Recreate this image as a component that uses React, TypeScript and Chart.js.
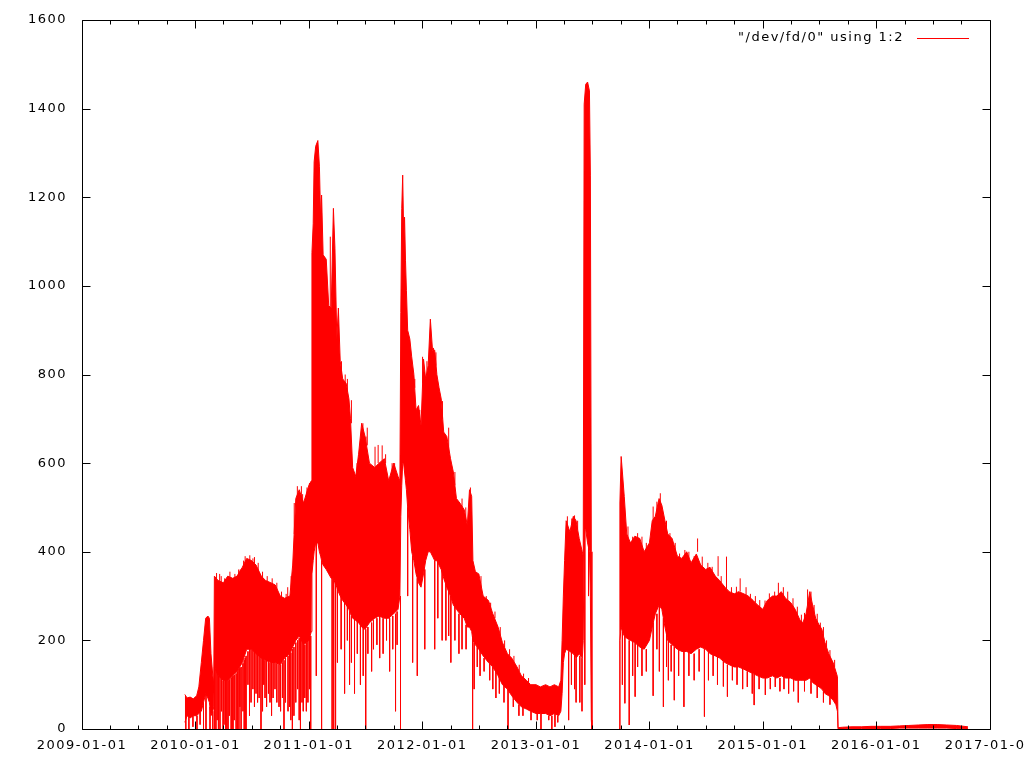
import React, { useEffect, useRef } from 'react';
import { Chart, registerables } from 'chart.js';

Chart.register(...registerables);

// ---- axis labels ----
const xTickLabels = [
  '2009-01-01', '2010-01-01', '2011-01-01', '2012-01-01', '2013-01-01',
  '2014-01-01', '2015-01-01', '2016-01-01', '2017-01-01',
];
const xMinorTickDates = [
  '2009-04-01', '2009-07-01', '2009-10-01', '2010-04-01', '2010-07-01', '2010-10-01',
  '2011-04-01', '2011-07-01', '2011-10-01', '2012-04-01', '2012-07-01', '2012-10-01',
  '2013-04-01', '2013-07-01', '2013-10-01', '2014-04-01', '2014-07-01', '2014-10-01',
  '2015-04-01', '2015-07-01', '2015-10-01', '2016-04-01', '2016-07-01', '2016-10-01',
];
const yTickValues = [0, 200, 400, 600, 800, 1000, 1200, 1400, 1600];
const legendLabel = '"/dev/fd/0" using 1:2';

// ---- series: envelope of the dense trace (sample dates, upper and lower values; null = no data) ----
const sampleDates = [
  '2009-11-28', '2009-12-05', '2009-12-15', '2009-12-25', '2010-01-05', '2010-01-12', '2010-01-20', '2010-01-27',
  '2010-02-03', '2010-02-10', '2010-02-15', '2010-02-20', '2010-02-26', '2010-03-01', '2010-03-03', '2010-03-15',
  '2010-04-01', '2010-04-15', '2010-05-01', '2010-05-15', '2010-06-01', '2010-06-15', '2010-07-01', '2010-07-15',
  '2010-08-01', '2010-08-15', '2010-09-01', '2010-09-15', '2010-10-01', '2010-10-15', '2010-11-01', '2010-11-10',
  '2010-11-20', '2010-12-01', '2010-12-15', '2011-01-01', '2011-01-09', '2011-01-11', '2011-01-15', '2011-01-18',
  '2011-01-23', '2011-01-30', '2011-02-04', '2011-02-08', '2011-02-11', '2011-02-16', '2011-02-26', '2011-03-06',
  '2011-03-14', '2011-03-21', '2011-03-26', '2011-04-01', '2011-04-06', '2011-04-12', '2011-04-20', '2011-05-01',
  '2011-05-10', '2011-05-15', '2011-05-22', '2011-06-01', '2011-06-10', '2011-06-20', '2011-07-01', '2011-07-15',
  '2011-08-01', '2011-08-15', '2011-09-01', '2011-09-15', '2011-10-01', '2011-10-15', '2011-10-21', '2011-10-24',
  '2011-10-27', '2011-10-30', '2011-11-02', '2011-11-05', '2011-11-08', '2011-11-11', '2011-11-15', '2011-11-22',
  '2011-11-28', '2011-12-05', '2011-12-12', '2011-12-20', '2011-12-28', '2012-01-05', '2012-01-12', '2012-01-20',
  '2012-01-27', '2012-02-03', '2012-02-10', '2012-02-17', '2012-02-24', '2012-03-02', '2012-03-10', '2012-03-20',
  '2012-04-01', '2012-04-10', '2012-04-20', '2012-05-01', '2012-05-15', '2012-05-25', '2012-06-01', '2012-06-08',
  '2012-06-12', '2012-06-20', '2012-07-01', '2012-07-15', '2012-08-01', '2012-08-15', '2012-09-01', '2012-09-15',
  '2012-10-01', '2012-10-15', '2012-11-01', '2012-11-15', '2012-12-01', '2012-12-15', '2013-01-01', '2013-01-15',
  '2013-02-01', '2013-02-15', '2013-03-01', '2013-03-15', '2013-03-22', '2013-03-26', '2013-03-30', '2013-04-03',
  '2013-04-08', '2013-04-20', '2013-05-01', '2013-05-10', '2013-05-20', '2013-05-30', '2013-06-02', '2013-06-05',
  '2013-06-10', '2013-06-16', '2013-06-22', '2013-06-25', '2013-06-28', '2013-06-30', '2013-08-10', '2013-09-26',
  '2013-09-28', '2013-10-02', '2013-10-06', '2013-10-12', '2013-10-20', '2013-11-01', '2013-11-15', '2013-12-01',
  '2013-12-15', '2014-01-01', '2014-01-10', '2014-01-20', '2014-02-01', '2014-02-10', '2014-02-20', '2014-03-01',
  '2014-03-15', '2014-04-01', '2014-04-15', '2014-05-01', '2014-05-15', '2014-06-01', '2014-06-15', '2014-07-01',
  '2014-07-15', '2014-08-01', '2014-08-15', '2014-09-01', '2014-09-15', '2014-10-01', '2014-10-15', '2014-11-01',
  '2014-11-15', '2014-12-01', '2014-12-15', '2015-01-01', '2015-01-15', '2015-02-01', '2015-02-15', '2015-03-01',
  '2015-03-15', '2015-04-01', '2015-04-15', '2015-05-01', '2015-05-10', '2015-05-20', '2015-06-01', '2015-06-10',
  '2015-06-20', '2015-07-01', '2015-07-10', '2015-07-20', '2015-08-01', '2015-08-15', '2015-08-24', '2015-08-29',
  '2015-08-31', '2015-09-15', '2015-10-15', '2015-11-15', '2015-12-15', '2016-01-15', '2016-02-15', '2016-03-15',
  '2016-04-15', '2016-05-15', '2016-06-15', '2016-07-15', '2016-08-15', '2016-09-15', '2016-10-22',
];
const upperValues = [
  78, 70, 72, 68, 75, 95, 150, 200,
  250, 255, 250, 170, 120, 100, 345, 335,
  330, 345, 340, 345, 365, 385, 380, 370,
  345, 335, 330, 325, 300, 295, 300, 370,
  520, 540, 510, 550, 560, 1075, 1140, 1280,
  1315, 1328, 1270, 1150, 1205, 1070, 1060, 955,
  950, 1175, 1085, 880, 950, 830, 790, 780,
  745, 700, 590, 570, 620, 690, 660, 600,
  590, 600, 610, 560, 600, 570, 560, 940,
  1175, 1250, 1125, 1155, 1058, 990, 900, 880,
  840, 800, 720, 730, 685, 835, 790, 820,
  925, 855, 855, 800, 770, 745, 670, 660,
  610, 580, 520, 510, 495, 460, 540, 525,
  380, 355, 350, 300, 290, 260, 230, 195,
  170, 160, 140, 120, 110, 100, 100, 95,
  100, 95, 100, 95, 110, 200, 300, 380,
  470, 445, 480, 470, 430, 400, 390, 1410,
  1455, 1460, 1440, 1250, 400, 0, null, 0,
  510, 615, 580, 525, 440, 420, 435, 430,
  400, 420, 470, 480, 520, 505, 470, 440,
  430, 390, 385, 400, 375, 395, 370, 360,
  365, 345, 335, 320, 310, 305, 310, 305,
  300, 290, 280, 270, 290, 300, 300, 310,
  295, 285, 270, 245, 240, 260, 310, 280,
  250, 235, 225, 195, 170, 150, 130, 118,
  3, 4, 5, 5, 6, 6, 6, 7,
  8, 9, 10, 10, 9, 8, 5,
];
const lowerValues = [
  15, 30, 25, 30, 30, 35, 40, 60,
  80, 70, 60, 30, 40, 50, 140, 120,
  110, 110, 120, 130, 150, 180, 180, 170,
  160, 155, 150, 150, 145, 160, 170, 185,
  200, 210, 190, 200, 220, 350, 380, 400,
  420, 420, 400, 390, 380, 370, 360, 350,
  340, 340, 330, 320, 310, 300, 290, 280,
  270, 260, 250, 245, 240, 230, 225, 240,
  250, 255, 250, 250, 260, 270, 300, 480,
  550, 600, 600, 580, 560, 540, 500, 450,
  400, 380, 350, 330, 320, 350, 380, 400,
  400, 390, 380, 380, 370, 360, 340, 320,
  300, 280, 270, 260, 250, 230, 230, 220,
  200, 190, 180, 165, 150, 140, 120, 100,
  90, 75, 60, 50, 45, 40, 35, 35,
  35, 30, 35, 30, 40, 80, 150, 170,
  180, 175, 170, 160, 170, 160, 200, 450,
  450, 420, 400, 300, 20, 0, null, 0,
  200, 230, 220, 210, 205, 200, 195, 185,
  180, 200, 230, 260, 280, 270, 230, 200,
  190, 180, 175, 175, 170, 180, 185, 180,
  170, 165, 160, 150, 145, 140, 140, 135,
  130, 125, 120, 115, 115, 120, 115, 120,
  115, 115, 110, 110, 110, 110, 115, 105,
  100, 95, 90, 80, 75, 65, 55, 40,
  0, 0, 1, 1, 1, 1, 1, 2,
  2, 2, 2, 2, 2, 1, 0,
];

// ---- downward excursions of the trace (date, value it leaves from, value it reaches) ----
const dipDates = [
  '2009-12-01', '2009-12-11', '2009-12-24', '2010-01-06', '2010-01-16', '2010-01-27', '2010-02-04', '2010-02-17',
  '2010-02-26', '2010-03-04', '2010-03-08', '2010-03-12', '2010-03-16', '2010-03-21', '2010-03-26', '2010-03-31',
  '2010-04-03', '2010-04-08', '2010-04-12', '2010-04-16', '2010-04-20', '2010-04-26', '2010-04-29', '2010-05-02',
  '2010-05-06', '2010-05-12', '2010-05-16', '2010-05-21', '2010-05-24', '2010-05-28', '2010-06-03', '2010-06-07',
  '2010-06-10', '2010-06-13', '2010-06-19', '2010-06-24', '2010-06-29', '2010-07-05', '2010-07-10', '2010-07-15',
  '2010-07-20', '2010-07-25', '2010-07-31', '2010-08-05', '2010-08-09', '2010-08-13', '2010-08-18', '2010-08-24',
  '2010-08-29', '2010-09-03', '2010-09-08', '2010-09-14', '2010-09-20', '2010-09-27', '2010-10-02', '2010-10-08',
  '2010-10-13', '2010-10-18', '2010-10-26', '2010-10-31', '2010-11-04', '2010-11-09', '2010-11-14', '2010-11-20',
  '2010-11-26', '2010-12-01', '2010-12-05', '2010-12-10', '2010-12-14', '2010-12-19', '2010-12-24', '2010-12-29',
  '2011-01-03', '2011-01-07', '2011-01-25', '2011-02-11', '2011-03-17', '2011-03-22', '2011-03-28',
  '2011-04-03', '2011-04-15', '2011-04-26', '2011-05-05', '2011-05-12', '2011-05-18', '2011-05-28', '2011-06-06',
  '2011-06-16', '2011-06-25', '2011-07-03', '2011-07-10', '2011-07-22', '2011-07-28', '2011-08-08', '2011-08-17',
  '2011-08-28', '2011-09-08', '2011-09-18', '2011-09-28', '2011-10-07', '2011-10-12', '2011-10-23', '2011-11-15',
  '2011-12-01', '2011-12-16', '2012-01-09', '2012-02-10', '2012-02-20', '2012-03-05', '2012-03-17', '2012-03-26',
  '2012-04-02', '2012-04-15', '2012-04-28', '2012-05-08', '2012-05-21', '2012-06-11', '2012-06-16', '2012-06-26',
  '2012-07-05', '2012-07-18', '2012-08-05', '2012-08-15', '2012-08-25', '2012-09-05', '2012-09-20', '2012-10-03',
  '2012-10-20', '2012-11-07', '2012-11-20', '2012-12-16', '2013-01-05', '2013-01-17', '2013-02-11', '2013-02-21',
  '2013-03-03', '2013-03-12', '2013-04-16', '2013-04-25', '2013-05-05', '2013-05-10', '2013-05-22', '2013-05-29',
  '2013-06-07', '2013-06-19', '2013-10-06', '2013-10-14', '2013-10-28', '2013-11-08', '2013-11-16', '2013-11-24',
  '2013-12-08', '2013-12-22', '2014-01-13', '2014-01-25', '2014-02-02', '2014-02-15', '2014-02-25', '2014-03-03',
  '2014-03-12', '2014-03-22', '2014-04-05', '2014-04-22', '2014-05-08', '2014-05-25', '2014-06-10', '2014-06-27',
  '2014-07-10', '2014-07-25', '2014-08-08', '2014-08-27', '2014-09-09', '2014-09-25', '2014-10-10', '2014-10-28',
  '2014-11-12', '2014-11-28', '2014-12-04', '2014-12-20', '2015-01-09', '2015-01-25', '2015-02-10', '2015-02-25',
  '2015-03-10', '2015-03-25', '2015-04-10', '2015-04-25', '2015-05-15', '2015-06-05', '2015-06-25', '2015-07-15',
  '2015-08-05',
];
const dipFrom = [
  30, 30, 30, 30, 40, 60, 80, 50,
  40, 140, 135, 130, 120, 120, 115, 110,
  110, 110, 110, 110, 112, 115, 118, 120,
  122, 125, 130, 135, 138, 140, 148, 155,
  160, 165, 175, 180, 180, 180, 178, 175,
  172, 170, 165, 160, 158, 155, 155, 152,
  150, 150, 150, 150, 148, 146, 145, 150,
  155, 160, 165, 170, 172, 180, 185, 195,
  200, 205, 205, 205, 200, 190, 195, 200,
  210, 210, 420, 380, 340, 340, 330,
  320, 300, 285, 280, 265, 255, 250, 245,
  240, 230, 225, 230, 240, 245, 250, 255,
  250, 250, 250, 255, 260, 265, 300, 500,
  390, 340, 360, 380, 380, 360, 330, 320,
  300, 280, 260, 255, 235, 210, 195, 185,
  180, 160, 150, 140, 130, 120, 100, 90,
  75, 55, 50, 40, 35, 35, 30, 30,
  35, 30, 175, 175, 165, 160, 165, 160,
  450, 420, 220, 210, 200, 200, 195, 195,
  185, 180, 240, 260, 280, 250, 230, 200,
  190, 185, 180, 175, 175, 170, 180, 180,
  175, 168, 165, 155, 145, 145, 140, 138,
  130, 128, 125, 120, 115, 115, 120, 115,
  120, 115, 112, 110, 110, 110, 100, 85,
  72,
];
const dipTo = [
  0, 0, 5, 0, 10, 0, 0, 0,
  0, 0, 0, 20, 0, 0, 40, 0,
  10, 0, 0, 0, 30, 0, 0, 0,
  20, 0, 0, 0, 50, 0, 40, 0,
  0, 0, 100, 30, 60, 90, 50, 80,
  60, 70, 0, 40, 100, 70, 50, 80,
  60, 30, 70, 90, 60, 50, 40, 70,
  0, 60, 40, 50, 20, 0, 30, 60,
  90, 20, 0, 60, 40, 70, 40, 60,
  90, 0, 120, 0, 0, 0, 0,
  150, 180, 80, 200, 100, 150, 80, 170,
  100, 120, 0, 170, 130, 180, 190, 160,
  170, 200, 130, 180, 40, 190, 0, 300,
  150, 120, 180, 180, 250, 200, 200, 210,
  150, 200, 170, 180, 180, 0, 90, 140,
  120, 130, 110, 90, 70, 80, 60, 0,
  50, 30, 30, 20, 20, 0, 20, 0,
  5, 15, 20, 100, 90, 60, 60, 40,
  100, 300, 100, 58, 9, 120, 73, 140,
  120, 130, 75, 180, 130, 50, 140, 110,
  130, 65, 120, 50, 120, 110, 130, 28,
  110, 120, 100, 96, 73, 110, 100, 90,
  95, 80, 54, 90, 77, 90, 95, 85,
  90, 80, 85, 60, 85, 80, 70, 60,
  55,
];

// ---- upward excursions of the trace (date, value it leaves from, value it reaches) ----
const peakDates = [
  '2010-03-10', '2010-03-20', '2010-03-25', '2010-04-05', '2010-04-22', '2010-05-08', '2010-05-20', '2010-05-25',
  '2010-06-05', '2010-06-10', '2010-06-25', '2010-07-05', '2010-07-10', '2010-07-22', '2010-08-05', '2010-08-20',
  '2010-09-05', '2010-09-20', '2010-10-05', '2010-10-20', '2010-10-25', '2010-11-05', '2010-11-15', '2010-11-25',
  '2010-12-08', '2010-12-12', '2010-12-26', '2011-01-03', '2011-03-11', '2011-04-16', '2011-04-28', '2011-05-05',
  '2011-05-18', '2011-06-05', '2011-06-24', '2011-07-04', '2011-07-08', '2011-08-02', '2011-08-12', '2011-08-25',
  '2011-09-05', '2011-09-26', '2011-10-04', '2011-12-08', '2011-12-24', '2012-01-02', '2012-01-16', '2012-02-06',
  '2012-02-14', '2012-03-06', '2012-03-26', '2012-04-15', '2012-05-08', '2012-05-20', '2012-06-04', '2012-07-08',
  '2012-07-25', '2012-08-08', '2012-08-22', '2012-09-08', '2012-09-22', '2012-10-08', '2012-10-22', '2012-11-08',
  '2012-11-22', '2012-12-08', '2013-04-12', '2013-04-26', '2013-05-05', '2013-05-15', '2013-10-24', '2013-11-08',
  '2013-11-24', '2013-12-08', '2013-12-22', '2014-01-13', '2014-01-25', '2014-02-05', '2014-02-25', '2014-03-08',
  '2014-03-25', '2014-04-08', '2014-04-25', '2014-05-08', '2014-05-25', '2014-06-05', '2014-06-20', '2014-07-08',
  '2014-07-22', '2014-08-10', '2014-08-20', '2014-09-06', '2014-09-22', '2014-10-08', '2014-10-20', '2014-11-08',
  '2014-11-22', '2014-12-08', '2014-12-22', '2015-01-08', '2015-01-22', '2015-02-08', '2015-02-20', '2015-03-08',
  '2015-03-22', '2015-04-08', '2015-04-22', '2015-05-05', '2015-05-15', '2015-05-25', '2015-06-05', '2015-06-15',
  '2015-06-25', '2015-07-05', '2015-07-15', '2015-07-25', '2015-08-05', '2015-08-20',
];
const peakFrom = [
  330, 330, 330, 325, 335, 335, 340, 340,
  365, 370, 375, 370, 370, 355, 335, 325,
  320, 310, 290, 285, 290, 320, 440, 510,
  500, 500, 510, 520, 940, 800, 770, 760,
  690, 560, 660, 640, 640, 590, 600, 590,
  600, 560, 580, 770, 700, 780, 790, 840,
  820, 700, 620, 550, 500, 470, 520, 320,
  290, 270, 250, 210, 185, 165, 150, 130,
  115, 105, 440, 460, 470, 450, 430, 420,
  420, 410, 395, 470, 490, 510, 450, 430,
  400, 380, 385, 385, 375, 400, 365, 355,
  355, 345, 330, 315, 305, 300, 310, 300,
  295, 285, 275, 270, 290, 295, 300, 300,
  290, 275, 255, 240, 245, 280, 290, 260,
  240, 228, 210, 185, 160, 140,
];
const peakTo = [
  352, 350, 345, 340, 355, 350, 360, 360,
  380, 390, 392, 385, 388, 375, 355, 345,
  340, 330, 310, 305, 320, 345, 510, 548,
  548, 530, 545, 555, 1111, 830, 800, 790,
  742, 600, 690, 660, 680, 637, 641, 640,
  620, 600, 600, 790, 720, 840, 830, 860,
  850, 740, 680, 580, 520, 500, 545, 345,
  300, 285, 265, 230, 200, 180, 165, 145,
  125, 115, 480, 475, 482, 470, 457, 434,
  442, 434, 420, 502, 513, 532, 470, 442,
  420, 396, 404, 400, 390, 430, 389, 375,
  366, 390, 345, 389, 320, 321, 340, 320,
  305, 300, 291, 290, 306, 310, 330, 320,
  310, 295, 276, 258, 262, 315, 310, 280,
  260, 240, 230, 200, 178, 156,
];

const ORIGIN = Date.UTC(2009, 0, 1);
function toDay(s: string): number {
  const [y, m, d] = s.split('-').map(Number);
  return (Date.UTC(y, m - 1, d) - ORIGIN) / 86400000;
}

const RED = 'rgb(255,0,0)';
const FONT = { family: '"DejaVu Sans", sans-serif', size: 13 };

const gnuplotFrame = {
  id: 'gnuplotFrame',
  beforeDraw(chart: any) {
    (chart.ctx as any).letterSpacing = '1.5px';
  },
  afterDraw(chart: any) {
    const ctx = chart.ctx as CanvasRenderingContext2D;
    const a = chart.chartArea;
    const xs = chart.scales.x;
    const ys = chart.scales.y;
    const L = a.left + 0.5;
    const R = a.right + 0.5;
    const T = a.top + 0.5;
    const B = a.bottom + 0.5;
    ctx.save();
    (ctx as any).letterSpacing = '0px';
    ctx.strokeStyle = '#000';
    ctx.lineWidth = 1;
    ctx.beginPath();
    ctx.rect(L, T, R - L, B - T);
    for (const v of yTickValues) {
      const y = Math.round(ys.getPixelForValue(v)) + 0.5;
      ctx.moveTo(L, y); ctx.lineTo(L + 8, y);
      ctx.moveTo(R, y); ctx.lineTo(R - 8, y);
    }
    for (const s of xTickLabels) {
      const x = Math.round(xs.getPixelForValue(toDay(s))) + 0.5;
      ctx.moveTo(x, B); ctx.lineTo(x, B - 8);
      ctx.moveTo(x, T); ctx.lineTo(x, T + 8);
    }
    for (const s of xMinorTickDates) {
      const x = Math.round(xs.getPixelForValue(toDay(s))) + 0.5;
      ctx.moveTo(x, B); ctx.lineTo(x, B - 4);
      ctx.moveTo(x, T); ctx.lineTo(x, T + 4);
    }
    ctx.stroke();

    // key (legend) in the top right corner, gnuplot style
    (ctx as any).letterSpacing = '1.5px';
    ctx.font = `13px ${FONT.family}`;
    ctx.fillStyle = '#000';
    ctx.textAlign = 'right';
    ctx.textBaseline = 'alphabetic';
    ctx.fillText(legendLabel, 904, 41);
    ctx.strokeStyle = RED;
    ctx.beginPath();
    ctx.moveTo(917, 38.5);
    ctx.lineTo(969, 38.5);
    ctx.stroke();
    ctx.restore();
  },
};

function strokePoints(dates: string[], from: number[], to: number[]) {
  const pts: any[] = [];
  dates.forEach((d, i) => {
    const x = toDay(d);
    pts.push({ x, y: from[i] }, { x, y: to[i] }, { x, y: null });
  });
  return pts;
}

export default function App() {
  const canvasRef = useRef<HTMLCanvasElement | null>(null);

  useEffect(() => {
    const canvas = canvasRef.current;
    if (!canvas) return;

    const upper = sampleDates.map((d, i) => ({ x: toDay(d), y: upperValues[i] }));
    const lower = sampleDates.map((d, i) => ({ x: toDay(d), y: lowerValues[i] }));
    const strokes = [
      ...strokePoints(dipDates, dipFrom, dipTo),
      ...strokePoints(peakDates, peakFrom, peakTo),
    ];

    const chart = new Chart(canvas, {
      type: 'line',
      data: {
        datasets: [
          {
            label: 'low',
            data: lower,
            borderColor: RED,
            borderWidth: 1,
            pointRadius: 0,
            fill: false,
            spanGaps: false,
          },
          {
            label: legendLabel,
            data: upper,
            borderColor: RED,
            backgroundColor: RED,
            borderWidth: 1,
            pointRadius: 0,
            fill: '-1',
            spanGaps: false,
          },
          {
            label: 'strokes',
            data: strokes,
            borderColor: RED,
            borderWidth: 1,
            pointRadius: 0,
            fill: false,
            spanGaps: false,
          },
        ],
      } as any,
      options: {
        responsive: false,
        animation: false,
        devicePixelRatio: 1,
        layout: { padding: { top: 20, right: 34, left: 0, bottom: 0 } },
        elements: { line: { tension: 0 }, point: { radius: 0 } },
        plugins: {
          legend: { display: false },
          tooltip: { enabled: false },
          filler: { propagate: false },
        },
        scales: {
          x: {
            type: 'linear',
            min: 0,
            max: toDay('2017-01-01'),
            grid: { display: false, drawTicks: false },
            border: { display: false },
            afterBuildTicks: (s: any) => {
              s.ticks = xTickLabels.map((l) => ({ value: toDay(l) }));
            },
            afterFit: (s: any) => {
              s.height = 39;
              s.paddingLeft = 0;
              s.paddingRight = 0;
            },
            ticks: {
              autoSkip: false,
              maxRotation: 0,
              minRotation: 0,
              padding: 9,
              color: '#000',
              font: FONT,
              callback: (_v: any, i: number) => xTickLabels[i],
            },
          },
          y: {
            type: 'linear',
            min: 0,
            max: 1600,
            grid: { display: false, drawTicks: false },
            border: { display: false },
            afterBuildTicks: (s: any) => {
              s.ticks = yTickValues.map((v) => ({ value: v }));
            },
            afterFit: (s: any) => {
              s.width = 82;
              s.paddingTop = 0;
              s.paddingBottom = 0;
            },
            ticks: {
              padding: 15,
              color: '#000',
              font: FONT,
              callback: (v: any) => String(v),
            },
          },
        },
      } as any,
      plugins: [gnuplotFrame],
    });

    return () => chart.destroy();
  }, []);

  return (
    <div style={{ position: 'absolute', left: 0, top: 0, width: 1024, height: 768, background: '#fff' }}>
      <canvas ref={canvasRef} width={1024} height={768} style={{ display: 'block' }} />
    </div>
  );
}
